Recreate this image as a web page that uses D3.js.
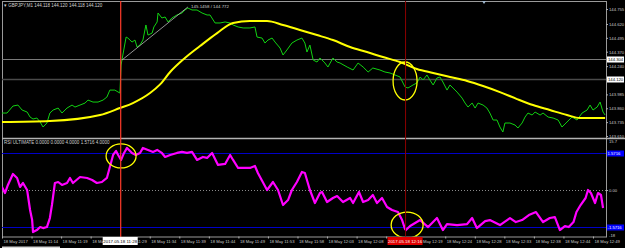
<!DOCTYPE html>
<html lang="en">
<head>
<meta charset="UTF-8">
<script src="https://d3js.org/d3.v7.min.js"></script>
<style>
  body { margin:0; background:#000; }
  svg { display:block; background:#000; font-family:"Liberation Sans", Arial, sans-serif; }
  .axis text { fill:#c8c8c8; font-size:4.2px; }
  .axis line { stroke:#b0b0b0; }
  .axis path { display:none; }
</style>
</head>
<body>
<svg></svg>
<script>
// GBPJPY M1 close, [bar, price]
var price = [
  [0,143.817],[1.7,143.817],[3.7,143.880],[5.4,143.889],[6.8,143.844],[8.5,143.826],[9.5,143.781],
  [10.5,143.763],[11.8,143.772],[12.9,143.736],[13.9,143.691],[15.2,143.727],[16.2,143.817],[17.3,143.844],
  [19.0,143.862],[20.3,143.817],[22.0,143.862],[23.7,143.889],[24.7,143.871],[26.4,143.889],[28.1,143.907],
  [29.1,143.934],[30.8,143.916],[32.5,143.916],[34.2,143.934],[35.5,143.961],[36.5,144.024],[38.2,144.024],
  [39.9,143.997],[40.3,144.250],[40.9,144.340],[42.0,144.502],[42.6,144.493],[44.0,144.457],[45.0,144.475],
  [45.7,144.412],[46.7,144.430],[47.7,144.475],[48.7,144.611],[49.4,144.520],[50.8,144.538],[51.4,144.593],
  [52.5,144.638],[52.8,144.719],[54.1,144.674],[55.2,144.683],[56.2,144.638],[57.5,144.674],[59.2,144.701],
  [60.9,144.719],[61.9,144.746],[62.9,144.764],[64.3,144.746],[66.0,144.746],[67.7,144.719],[69.4,144.701],
  [70.4,144.701],[72.1,144.629],[73.8,144.629],[75.5,144.638],[77.2,144.629],[78.2,144.611],[79.9,144.593],
  [81.6,144.584],[83.9,144.584],[85.6,144.593],[86.3,144.502],[88.0,144.493],[89.0,144.448],[90.0,144.475],
  [91.4,144.493],[92.4,144.457],[94.1,144.403],[95.1,144.340],[96.4,144.385],[98.1,144.448],[99.8,144.475],
  [101.5,144.493],[102.5,144.448],[103.2,144.367],[104.2,144.430],[105.3,144.295],[106.6,144.277],[107.6,144.313],
  [109.3,144.268],[110.3,144.232],[112.0,144.313],[113.4,144.277],[114.4,144.268],[116.8,144.232],[118.8,144.205],
  [120.5,144.268],[122.2,144.232],[123.9,144.187],[125.5,144.223],[127.9,144.205],[129.6,144.187],[131.3,144.178],
  [133.0,144.160],[134.7,144.142],[136.4,144.052],[137.4,144.043],[139.1,144.070],[140.4,144.088],[141.5,144.142],
  [142.5,144.115],[143.8,144.160],[144.8,144.115],[145.9,144.070],[147.2,144.133],[148.2,144.142],[149.2,144.097],
  [150.6,144.024],[151.6,144.070],[152.6,144.043],[154.0,144.006],[155.7,143.952],[156.7,143.907],[157.7,143.871],
  [159.1,143.907],[160.1,143.862],[161.1,143.907],[162.8,143.889],[164.1,143.862],[165.1,143.817],[166.2,143.754],
  [167.5,143.754],[168.5,143.691],[169.5,143.646],[170.2,143.727],[171.9,143.727],[173.6,143.709],[174.6,143.682],
  [176.0,143.727],[177.0,143.781],[178.0,143.817],[179.4,143.799],[180.4,143.826],[182.1,143.799],[183.1,143.817],
  [184.8,143.781],[186.5,143.772],[188.2,143.754],[189.5,143.691],[191.2,143.736],[192.9,143.781],[194.6,143.754],
  [196.3,143.817],[198.0,143.844],[199.0,143.889],[200.0,143.844],[201.4,143.871],[202.4,143.916],[203.4,143.826],
  [204.1,143.799]
];

// moving average (yellow)
var ma = [
  [0,143.736],[16.2,143.745],[33.2,143.799],[39.9,143.862],[44.3,143.907],[50.1,143.997],[53.5,144.075],
  [56.9,144.187],[61.9,144.313],[67.0,144.421],[72.8,144.538],[78.2,144.629],[83.9,144.647],[89.7,144.647],
  [95.1,144.611],[100.8,144.566],[106.6,144.520],[112.0,144.475],[117.8,144.412],[123.5,144.367],[128.9,144.322],
  [134.7,144.277],[140.4,144.214],[145.9,144.178],[151.6,144.142],[157.4,144.106],[162.8,144.061],[168.5,144.006],
  [174.3,143.943],[179.7,143.889],[185.4,143.844],[191.2,143.799],[195.6,143.772],[204.1,143.772]
];

// RSI ULTIMATE (magenta)
var rsi = [
  [0,0.128],[1.0,-0.128],[2.0,0.213],[3.7,0.681],[5.1,0.511],[6.1,0.128],[7.1,0.298],[8.5,0],[9.5,-0.851],
  [10.2,-1.277],[10.5,-1.787],[11.8,-1.702],[12.9,-1.574],[13.9,-1.617],[15.2,-1.574],[16.2,-1.191],[16.9,-0.638],
  [17.9,0.298],[19.0,0.340],[20.3,0.213],[22.0,0.298],[23.0,0.511],[24.0,0.298],[26.4,0.553],[28.8,0.511],
  [30.5,0.426],[32.1,0.298],[33.8,0.340],[35.5,0.511],[36.5,0.979],[37.6,1.489],[38.6,1.660],[39.3,1.489],
  [40.3,1.277],[41.3,1.574],[42.3,1.787],[44.0,1.574],[45.3,1.489],[46.7,1.574],[47.7,1.787],[49.4,1.702],
  [51.1,1.617],[52.5,1.702],[54.1,1.574],[55.2,1.404],[56.9,1.489],[59.2,1.574],[60.9,1.617],[62.6,1.574],
  [64.3,1.617],[66.0,1.277],[68.0,1.404],[69.4,1.362],[71.1,1.574],[73.1,1.064],[75.5,1.106],[77.2,1.489],
  [78.2,1.277],[79.9,0.936],[83.9,0.936],[85.6,1.021],[86.6,0.723],[89.7,0],[91.7,0.340],[93.4,0],
  [95.1,-0.638],[96.8,-0.426],[98.1,0],[99.8,0.340],[101.5,0.766],[102.5,0.723],[104.2,0],[105.9,-0.553],
  [107.6,-0.128],[108.3,-0.085],[110.0,-0.511],[112.0,-0.340],[113.4,-0.255],[115.4,-0.511],[117.8,-0.340],
  [118.8,-0.553],[120.8,-0.085],[122.2,-0.511],[123.9,-0.426],[125.5,-0.213],[126.9,-0.553],[128.6,-0.340],
  [130.3,-0.723],[132.0,-0.851],[134.0,-0.936],[135.4,-1.277],[136.4,-1.660],[136.7,-1.702],[138.1,-1.532],
  [141.5,-1.277],[144.2,-1.574],[147.2,-1.191],[149.2,-1.702],[150.6,-1.447],[154.0,-1.489],[157.4,-1.447],
  [159.1,-1.191],[160.7,-1.617],[163.5,-1.319],[165.1,-1.277],[168.5,-1.489],[171.9,-1.191],[173.9,-1.362],
  [176.0,-1.277],[178.3,-1.064],[180.7,-0.936],[183.1,-1.362],[185.4,-1.191],[187.1,-1.149],[188.8,-1.702],
  [190.5,-1.532],[191.8,-1.574],[193.4,-1.362],[194.4,-0.936],[195.8,-0.638],[197.5,-0.340],[198.3,0],
  [199.3,-0.128],[200.7,-0.553],[201.7,-0.128],[202.7,-0.213],[203.4,-0.766]
];

var priceTicks = [144.755, 144.620, 144.495, 144.370, 144.240, 143.985, 143.860, 143.735, 143.610];
var priceLines = [144.304, 144.120];
var rsiLevels = [1.5716, -1.5716];
var timeBars = [0,10,20,30,40,50,60,70,80,90,100,110,120,130,140,150,160,170,180,190,200];
var timeLabels = ["18 May 2017","18 May 11:14","18 May 11:19","18 May 11:24","18 May 11:29","18 May 11:34",
  "18 May 11:39","18 May 11:44","18 May 11:49","18 May 11:53","18 May 11:58","18 May 12:03","18 May 12:08",
  "18 May 12:13","18 May 12:19","18 May 12:24","18 May 12:28","18 May 12:33","18 May 12:38","18 May 12:44","18 May 12:49"];

var W = 625, H = 248;
var padL = 2, padR = 606, padT = 1, sepY = 138, botY = 236.5;

var svg = d3.select("svg").attr("width", W).attr("height", H);

var x = d3.scaleLinear().domain([0, 204.4]).range([padL, padR]);
var yP = d3.scaleLinear().domain([143.610, 144.755]).range([136, 9]);
var yR = d3.scaleLinear().domain([-1.5716, 1.5716]).range([227, 153]);

var defs = svg.append("defs");
defs.append("clipPath").attr("id", "clipMain").append("rect")
  .attr("x", padL).attr("y", padT).attr("width", padR - padL).attr("height", sepY - padT);
defs.append("clipPath").attr("id", "clipRsi").append("rect")
  .attr("x", padL).attr("y", sepY + 1).attr("width", padR - padL).attr("height", botY - sepY - 1);

// frame
svg.append("rect").attr("x", padL + 0.5).attr("y", padT + 0.5)
  .attr("width", padR - padL).attr("height", botY - padT)
  .attr("fill", "none").attr("stroke", "#9a9a9a").attr("stroke-width", 1);
svg.append("line").attr("x1", padL).attr("x2", W).attr("y1", sepY + 0.5).attr("y2", sepY + 0.5)
  .attr("stroke", "#b4b4b4").attr("stroke-width", 1.5);

// main pane
var main = svg.append("g").attr("clip-path", "url(#clipMain)");

main.selectAll(".hline").data(priceLines).enter().append("line")
  .attr("x1", padL).attr("x2", padR)
  .attr("y1", function(d){ return Math.round(yP(d)) + 0.5; })
  .attr("y2", function(d){ return Math.round(yP(d)) + 0.5; })
  .attr("stroke", function(d, i){ return i == 0 ? "#7a7a7a" : "#4a4a4a"; })
  .attr("stroke-width", function(d, i){ return i == 0 ? 1 : 1.5; });

var lineP = d3.line().x(function(d){ return x(d[0]); }).y(function(d){ return yP(d[1]); });

main.append("path").datum(price).attr("d", lineP)
  .attr("fill", "none").attr("stroke", "#12d212").attr("stroke-width", 1);

main.append("path").datum(ma).attr("d", lineP.curve(d3.curveMonotoneX))
  .attr("fill", "none").attr("stroke", "#ffff00").attr("stroke-width", 2);

// trend line object
main.append("line")
  .attr("x1", x(40.6)).attr("y1", yP(144.295)).attr("x2", x(62.9)).attr("y2", yP(144.773))
  .attr("stroke", "#b8b8b8").attr("stroke-width", 0.8);
main.append("text").attr("x", x(64.0)).attr("y", yP(144.760))
  .attr("fill", "#d0d0d0").attr("font-size", "4.4px").text("145.1458 / 144.772");

// yellow ellipse, main pane
main.append("ellipse").attr("cx", x(136.4)).attr("cy", yP(144.106)).attr("rx", 12).attr("ry", 19)
  .attr("fill", "none").attr("stroke", "#ffff00").attr("stroke-width", 1.3);

// small arrow marker at top
svg.append("path").attr("d", "M482,1 L486,1 L484,4 Z").attr("fill", "#9fb6cd");

// rsi pane
var sub = svg.append("g").attr("clip-path", "url(#clipRsi)");

sub.selectAll(".lvl").data(rsiLevels).enter().append("line")
  .attr("x1", padL).attr("x2", padR)
  .attr("y1", function(d){ return Math.round(yR(d)) + 0.5; })
  .attr("y2", function(d){ return Math.round(yR(d)) + 0.5; })
  .attr("stroke", "#0000c8").attr("stroke-width", 1);
sub.append("line").attr("x1", padL).attr("x2", padR)
  .attr("y1", Math.round(yR(0)) + 0.5).attr("y2", Math.round(yR(0)) + 0.5)
  .attr("stroke", "#8a8a8a").attr("stroke-width", 1).attr("stroke-dasharray", "1,2");

var lineR = d3.line().x(function(d){ return x(d[0]); }).y(function(d){ return yR(d[1]); });
sub.append("path").datum(rsi).attr("d", lineR)
  .attr("fill", "none").attr("stroke", "#ff00ff").attr("stroke-width", 2.2).attr("stroke-linejoin", "round");

sub.append("ellipse").attr("cx", x(40.3)).attr("cy", yR(1.447)).attr("rx", 15).attr("ry", 12)
  .attr("fill", "none").attr("stroke", "#ffff00").attr("stroke-width", 1.3);
sub.append("ellipse").attr("cx", x(137.1)).attr("cy", yR(-1.489)).attr("rx", 16).attr("ry", 13)
  .attr("fill", "none").attr("stroke", "#ffff00").attr("stroke-width", 1.3);

// vertical lines
svg.append("line").attr("x1", x(40) + 0.5).attr("x2", x(40) + 0.5).attr("y1", padT).attr("y2", botY + 2)
  .attr("stroke", "#ff3a2a").attr("stroke-width", 1.2);
svg.append("line").attr("x1", x(136.4) + 0.5).attr("x2", x(136.4) + 0.5).attr("y1", padT).attr("y2", botY)
  .attr("stroke", "#8b0000").attr("stroke-width", 1);

// pane titles
svg.append("text").attr("x", 4).attr("y", 6.5).attr("fill", "#d0d0d0").attr("font-size", "4.5px")
  .text("\u25BE GBPJPY,M1  144.118 144.120 144.118 144.120");
svg.append("text").attr("x", 4).attr("y", 144).attr("fill", "#d0d0d0").attr("font-size", "4.5px")
  .text("RSI ULTIMATE 0.0000 0.0000 4.0000 1.5716 4.0000");

// price axis
svg.append("g").attr("class", "axis").attr("transform", "translate(" + padR + ",0)")
  .call(d3.axisRight(yP).tickValues(priceTicks).tickSize(2).tickPadding(1).tickFormat(d3.format(".3f")));

var tags = svg.append("g");
priceLines.forEach(function(v){
  var yy = Math.round(yP(v)) + 0.5;
  tags.append("rect").attr("x", padR + 1).attr("y", yy - 3).attr("width", 17).attr("height", 6).attr("fill", "#ffffff");
  tags.append("text").attr("x", padR + 2).attr("y", yy + 1.6).attr("font-size", "4.2px").attr("fill", "#000").text(v.toFixed(3));
});

// rsi axis
svg.append("g").attr("class", "axis").attr("transform", "translate(" + padR + ",0)")
  .call(d3.axisRight(yR).tickValues([0]).tickSize(2).tickPadding(1).tickFormat(d3.format(".2f")));
svg.append("text").attr("x", padR + 3).attr("y", sepY + 5).attr("fill", "#c8c8c8").attr("font-size", "4.2px").text("15.7");
svg.append("text").attr("x", padR + 3).attr("y", botY).attr("fill", "#c8c8c8").attr("font-size", "4.2px").text("-18");
rsiLevels.forEach(function(v){
  var yy = Math.round(yR(v)) + 0.5;
  tags.append("rect").attr("x", padR + 1).attr("y", yy - 3).attr("width", 17).attr("height", 6).attr("fill", "#0000ff");
  tags.append("text").attr("x", padR + 1.5).attr("y", yy + 1.6).attr("font-size", "4.2px").attr("fill", "#fff").text(v.toFixed(4));
});

// time axis
svg.append("g").attr("class", "axis").attr("transform", "translate(0," + botY + ")")
  .call(d3.axisBottom(x).tickValues(timeBars).tickSize(2).tickPadding(1)
    .tickFormat(function(d, i){ return timeLabels[i]; }))
  .selectAll("text").attr("text-anchor", "start").attr("dx", "1").attr("dy", "0.9em");

// crosshair time tags
function timeTag(bar, label, bg, fg) {
  var cx = x(bar);
  svg.append("rect").attr("x", cx - 17.5).attr("y", botY + 0.5).attr("width", 35).attr("height", 8).attr("fill", bg);
  svg.append("text").attr("x", cx).attr("y", botY + 6).attr("text-anchor", "middle")
    .attr("font-size", "4.4px").attr("fill", fg).text(label);
}
timeTag(40, "2017.05.18 11:28", "#ffffff", "#000000");
timeTag(136.4, "2017.05.18 12:16", "#e00000", "#ffffff");

// bottom tab strip
svg.append("rect").attr("x", 2).attr("y", 246.5).attr("width", 58).attr("height", 1.5).attr("fill", "#d8d8d8");
</script>
</body>
</html>
